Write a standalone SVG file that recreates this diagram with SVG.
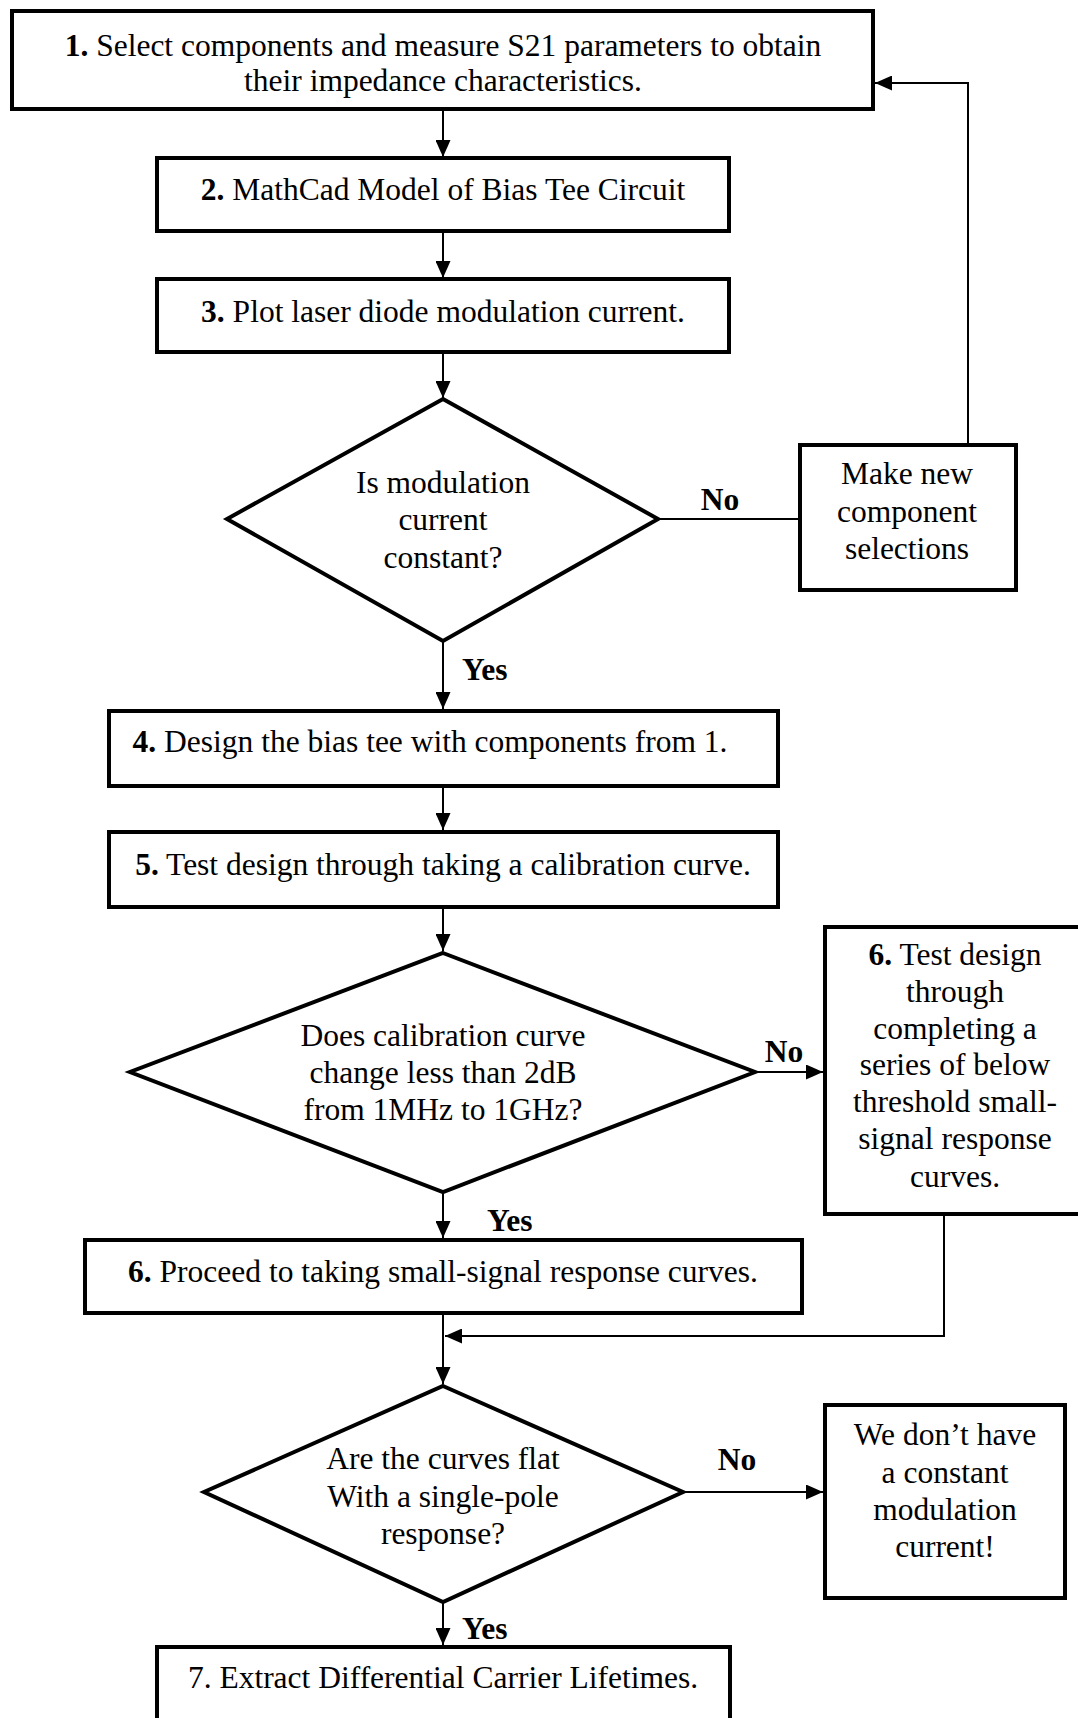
<svg xmlns="http://www.w3.org/2000/svg" width="1078" height="1718" viewBox="0 0 1078 1718">
<style>
.box{fill:#fff;stroke:#000;stroke-width:4}
.con{fill:none;stroke:#000;stroke-width:2}
text{font-family:"Liberation Serif","Times New Roman",serif;font-size:31.5px;fill:#000}
.c{text-anchor:middle}
.b{font-weight:bold}
</style>
<defs>
<marker id="ah" markerUnits="userSpaceOnUse" markerWidth="17" markerHeight="15" refX="17" refY="7.5" orient="auto">
<path d="M0,0 L17,7.5 L0,15 Z" fill="#000"/>
</marker>
</defs>
<rect width="1078" height="1718" fill="#fff"/>
<g id="connectors">
<path class="con" d="M443,111 V157" marker-end="url(#ah)"/>
<path class="con" d="M443,233 V278" marker-end="url(#ah)"/>
<path class="con" d="M443,354 V398" marker-end="url(#ah)"/>
<path class="con" d="M658,519 H800"/>
<path class="con" d="M968,445 V83 H875" marker-end="url(#ah)"/>
<path class="con" d="M443,641 V709" marker-end="url(#ah)"/>
<path class="con" d="M443,788 V830" marker-end="url(#ah)"/>
<path class="con" d="M443,909 V951" marker-end="url(#ah)"/>
<path class="con" d="M755,1072 H823" marker-end="url(#ah)"/>
<path class="con" d="M443,1192 V1238" marker-end="url(#ah)"/>
<path class="con" d="M944,1216 V1336 H445" marker-end="url(#ah)"/>
<path class="con" d="M443,1315 V1384" marker-end="url(#ah)"/>
<path class="con" d="M683,1492 H823" marker-end="url(#ah)"/>
<path class="con" d="M443,1602 V1645" marker-end="url(#ah)"/>
</g>
<g id="n1">
<rect class="box" x="12" y="11" width="861" height="98"/>
<text class="c" x="443" y="56"><tspan class="b">1.</tspan> Select components and measure S21 parameters to obtain</text>
<text class="c" x="443" y="91">their impedance characteristics.</text>
</g>
<g id="n2">
<rect class="box" x="157" y="158" width="572" height="73"/>
<text class="c" x="443" y="200"><tspan class="b">2.</tspan> MathCad Model of Bias Tee Circuit</text>
</g>
<g id="n3">
<rect class="box" x="157" y="279" width="572" height="73"/>
<text class="c" x="443" y="322"><tspan class="b">3.</tspan> Plot laser diode modulation current.</text>
</g>
<g id="d1">
<polygon class="box" points="443,399 658,519 443,641 227,519"/>
<text class="c" x="443" y="493">Is modulation</text>
<text class="c" x="443" y="530">current</text>
<text class="c" x="443" y="568">constant?</text>
</g>
<g id="nnew">
<rect class="box" x="800" y="445" width="216" height="145"/>
<text class="c" x="907" y="484">Make new</text>
<text class="c" x="907" y="522">component</text>
<text class="c" x="907" y="559">selections</text>
</g>
<g id="labels">
<text class="c b" x="720" y="510">No</text>
<text class="b" x="462" y="680">Yes</text>
<text class="c b" x="784" y="1062">No</text>
<text class="b" x="487" y="1231">Yes</text>
<text class="c b" x="737" y="1470">No</text>
<text class="b" x="462" y="1639">Yes</text>
</g>
<g id="n4">
<rect class="box" x="109" y="711" width="669" height="75"/>
<text class="c" x="430" y="752"><tspan class="b">4.</tspan> Design the bias tee with components from 1.</text>
</g>
<g id="n5">
<rect class="box" x="109" y="832" width="669" height="75"/>
<text class="c" x="443" y="875"><tspan class="b">5.</tspan> Test design through taking a calibration curve.</text>
</g>
<g id="d2">
<polygon class="box" points="443,953 755,1072 443,1192 130,1072"/>
<text class="c" x="443" y="1046">Does calibration curve</text>
<text class="c" x="443" y="1083">change less than 2dB</text>
<text class="c" x="443" y="1120">from 1MHz to 1GHz?</text>
</g>
<g id="n6b">
<rect class="box" x="825" y="927" width="257" height="287"/>
<text class="c" x="955" y="965"><tspan class="b">6.</tspan> Test design</text>
<text class="c" x="955" y="1002">through</text>
<text class="c" x="955" y="1039">completing a</text>
<text class="c" x="955" y="1075">series of below</text>
<text class="c" x="955" y="1112">threshold small-</text>
<text class="c" x="955" y="1149">signal response</text>
<text class="c" x="955" y="1187">curves.</text>
</g>
<g id="n6a">
<rect class="box" x="85" y="1240" width="717" height="73"/>
<text class="c" x="443" y="1282"><tspan class="b">6.</tspan> Proceed to taking small-signal response curves.</text>
</g>
<g id="d3">
<polygon class="box" points="443,1386 683,1492 443,1602 204,1492"/>
<text class="c" x="443" y="1469">Are the curves flat</text>
<text class="c" x="443" y="1507">With a single-pole</text>
<text class="c" x="443" y="1544">response?</text>
</g>
<g id="nwe">
<rect class="box" x="825" y="1405" width="240" height="193"/>
<text class="c" x="945" y="1445">We don’t have</text>
<text class="c" x="945" y="1483">a constant</text>
<text class="c" x="945" y="1520">modulation</text>
<text class="c" x="945" y="1557">current!</text>
</g>
<g id="n7">
<rect class="box" x="157" y="1647" width="573" height="90"/>
<text class="c" x="443" y="1688">7. Extract Differential Carrier Lifetimes.</text>
</g>
</svg>
